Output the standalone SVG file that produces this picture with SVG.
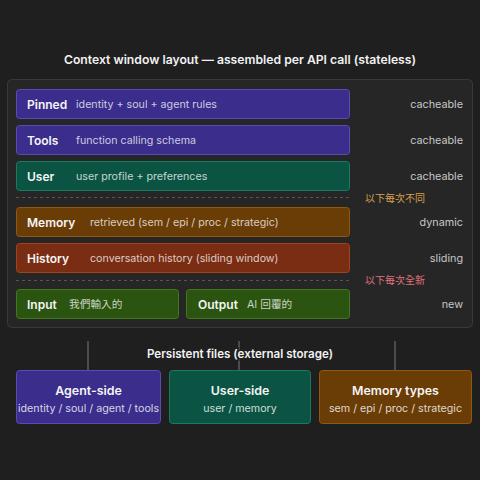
<svg xmlns="http://www.w3.org/2000/svg" width="480" height="480" viewBox="0 0 480 480">
<style>
text{font-family:Inter,"Noto Sans","Noto Sans CJK TC",sans-serif}
.title{font-size:12.2px;font-weight:600;fill:#f2f2f2}
.sub{font-size:11.6px;font-weight:600;fill:#f2f2f2}
.lbl{font-size:12px;font-weight:600;fill:#f5f5f5}
.desc{font-size:10.7px;fill:#ffffff;fill-opacity:0.75}
.right{font-size:10.8px;fill:#c8c8c8;text-anchor:end}
.note{font-size:10px}
.purple{fill:#3b2d8c;stroke:#5a4bb8;stroke-width:1}
.green{fill:#0b5443;stroke:#1c7a5f;stroke-width:1}
.amber{fill:#6a3c06;stroke:#935810;stroke-width:1}
.rust{fill:#7a2d13;stroke:#a2431f;stroke-width:1}
.lime{fill:#2a5410;stroke:#3f7a1e;stroke-width:1}
.dash{stroke:#555;stroke-width:1;stroke-dasharray:3 3}
.conn{stroke:#7a7a7a;stroke-width:1}
.btitle{font-size:12.4px;font-weight:600;fill:#f5f5f5;text-anchor:middle}
.bdesc{font-size:10.7px;fill:#ffffff;fill-opacity:0.8;text-anchor:middle}
</style>
<rect width="480" height="480" fill="#1f1f1f"/>
<text class="title" x="240" y="64" text-anchor="middle">Context window layout — assembled per API call (stateless)</text>
<rect x="7.5" y="79.5" width="465" height="248" rx="4" fill="#262626" stroke="#393939"/>

<g id="pinned">
<rect class="purple" x="16.5" y="89.5" width="333" height="29" rx="3"/>
<text class="lbl" x="27" y="108.5">Pinned</text>
<text class="desc" x="76" y="108">identity + soul + agent rules</text>
<text class="right" x="463" y="108">cacheable</text>
</g>
<g id="tools">
<rect class="purple" x="16.5" y="125.5" width="333" height="29" rx="3"/>
<text class="lbl" x="27" y="144.5">Tools</text>
<text class="desc" x="76" y="144">function calling schema</text>
<text class="right" x="463" y="144">cacheable</text>
</g>
<g id="user">
<rect class="green" x="16.5" y="161.5" width="333" height="29" rx="3"/>
<text class="lbl" x="27" y="180.5">User</text>
<text class="desc" x="76" y="180">user profile + preferences</text>
<text class="right" x="463" y="180">cacheable</text>
</g>
<line class="dash" x1="16" y1="197.5" x2="350" y2="197.5"/>
<text class="note" x="365" y="202" fill="#d9a24a">以下每次不同</text>
<g id="memory">
<rect class="amber" x="16.5" y="207.5" width="333" height="29" rx="3"/>
<text class="lbl" x="27" y="226.5">Memory</text>
<text class="desc" x="90" y="226">retrieved (sem / epi / proc / strategic)</text>
<text class="right" x="463" y="226">dynamic</text>
</g>
<g id="history">
<rect class="rust" x="16.5" y="243.5" width="333" height="29" rx="3"/>
<text class="lbl" x="27" y="262.5">History</text>
<text class="desc" x="90" y="262">conversation history (sliding window)</text>
<text class="right" x="463" y="262">sliding</text>
</g>
<line class="dash" x1="16" y1="280.5" x2="350" y2="280.5"/>
<text class="note" x="365" y="284" fill="#e0727c">以下每次全新</text>
<g id="input">
<rect class="lime" x="16.5" y="289.5" width="162" height="29" rx="3"/>
<text class="lbl" x="27" y="308.5">Input</text>
<text class="desc" x="69" y="308">我們輸入的</text>
</g>
<g id="output">
<rect class="lime" x="186.5" y="289.5" width="163" height="29" rx="3"/>
<text class="lbl" x="198" y="308.5">Output</text>
<text class="desc" x="247" y="308">AI 回覆的</text>
<text class="right" x="463" y="308">new</text>
</g>

<g id="connectors">
<line class="conn" x1="88" y1="341" x2="88" y2="370"/>
<line class="conn" x1="239" y1="341" x2="239" y2="370"/>
<line class="conn" x1="395" y1="341" x2="395" y2="370"/>
</g>
<text class="sub" x="240" y="358" text-anchor="middle" stroke="#1f1f1f" stroke-width="3" paint-order="stroke">Persistent files (external storage)</text>

<g id="agent-side">
<rect class="purple" x="16.5" y="370.5" width="144" height="53" rx="3"/>
<text class="btitle" x="88.5" y="395">Agent-side</text>
<text class="bdesc" x="88.5" y="412">identity / soul / agent / tools</text>
</g>
<g id="user-side">
<rect class="green" x="169.5" y="370.5" width="141" height="53" rx="3"/>
<text class="btitle" x="240" y="395">User-side</text>
<text class="bdesc" x="240" y="412">user / memory</text>
</g>
<g id="memory-types">
<rect class="amber" x="319.5" y="370.5" width="152" height="53" rx="3"/>
<text class="btitle" x="395.5" y="395">Memory types</text>
<text class="bdesc" x="395.5" y="412">sem / epi / proc / strategic</text>
</g>
</svg>
